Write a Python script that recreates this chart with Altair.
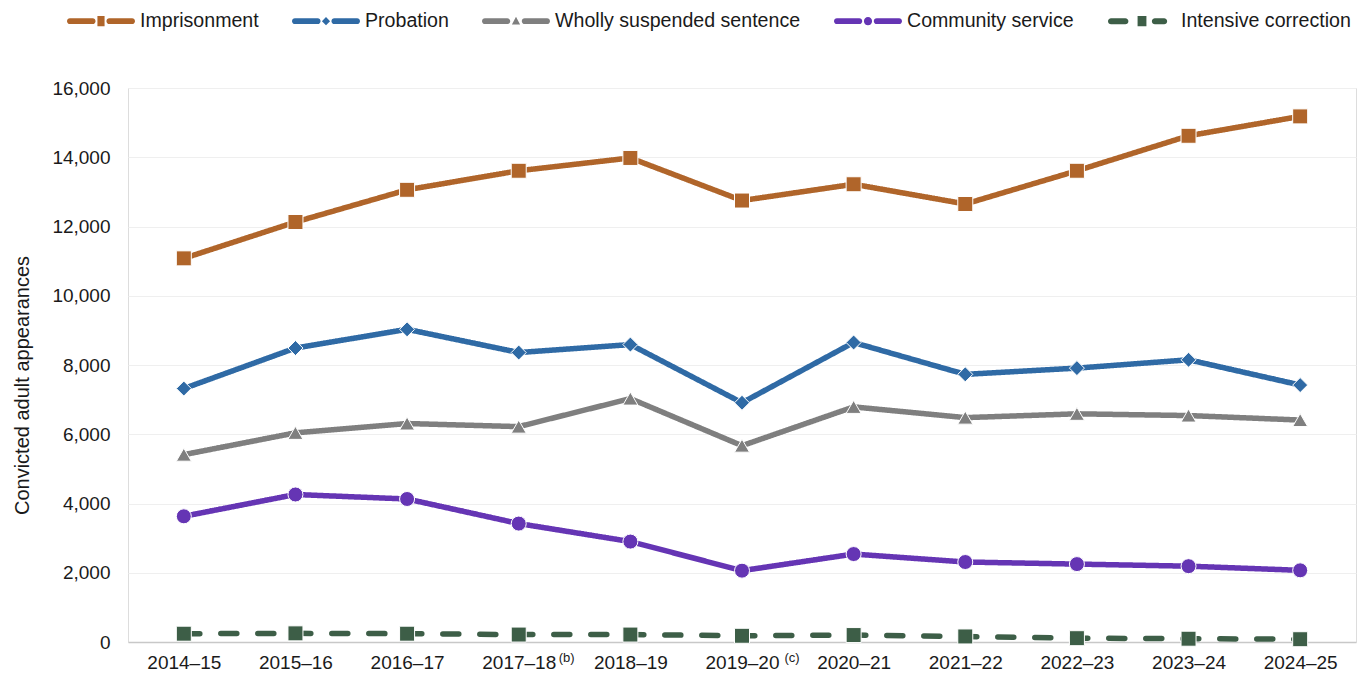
import altair as alt
import pandas as pd

# Financial years shown on the x axis
periods = ["2014–15", "2015–16", "2016–17", "2017–18", "2018–19", "2019–20",
           "2020–21", "2021–22", "2022–23", "2023–24", "2024–25"]

series_names = ["Imprisonment", "Probation", "Wholly suspended sentence",
                "Community service", "Intensive correction"]

# Convicted adult appearances by principal sentence type
imprisonment = [11080, 12130, 13060, 13610, 13980, 12750, 13220, 12650, 13610, 14620, 15180]
probation = [7320, 8490, 9030, 8360, 8590, 6910, 8650, 7730, 7910, 8150, 7420]
wholly_suspended = [5410, 6040, 6310, 6220, 7030, 5670, 6790, 6480, 6590, 6540, 6410]
community_service = [3630, 4260, 4130, 3420, 2900, 2060, 2540, 2310, 2250, 2190, 2070]
intensive_correction = [240, 250, 240, 215, 215, 180, 200, 160, 110, 95, 80]

# Footnote markers attached to some year labels
note_periods = ["2017–18", "2019–20"]
note_marks = ["(b)", "(c)"]

colors = ["#B0652A", "#2F6AA5", "#7F7F7F", "#6535B4", "#3D5E47"]
shapes = ["square", "diamond", "triangle-up", "circle", "square"]
sizes = [225, 225, 215, 250, 230]
dashes = [[1, 0], [1, 0], [1, 0], [1, 0], [16, 21]]

FONT = "Liberation Sans"
TEXT = "#1A1A1A"

values = [imprisonment, probation, wholly_suspended, community_service, intensive_correction]
rows = []
for name, vals in zip(series_names, values):
    for p, v in zip(periods, vals):
        rows.append({"period": p, "series": name, "count": v})
df = pd.DataFrame(rows)
notes = pd.DataFrame({"period": note_periods, "note": note_marks})
keys = pd.DataFrame({"series": series_names})


# Legend keys: a short line with the series marker in the middle
def bar(x0, x1, t):
    return (f"M{x0 + t:.3f},{-t:.3f}H{x1 - t:.3f}"
            f"A{t:.3f},{t:.3f} 0 0 1 {x1 - t:.3f},{t:.3f}"
            f"H{x0 + t:.3f}A{t:.3f},{t:.3f} 0 0 1 {x0 + t:.3f},{-t:.3f}Z")


T = 0.085
key_paths = [
    bar(-1, -0.16, T) + "M-0.105,-0.15H0.105V0.15H-0.105Z" + bar(0.16, 1, T),
    bar(-1, -0.16, T) + "M-0.12,0L0,-0.12L0.12,0L0,0.12Z" + bar(0.16, 1, T),
    bar(-1, -0.17, T) + "M-0.12,0.1L0.12,0.1L0,-0.13Z" + bar(0.17, 1, T),
    bar(-1, -0.17, T) + "M-0.12,0A0.12,0.12 0 1 0 0.12,0A0.12,0.12 0 1 0 -0.12,0Z" + bar(0.17, 1, T),
    bar(-1, -0.4, 0.09) + "M-0.13,-0.15H0.13V0.15H-0.13Z" + bar(0.29, 0.74, 0.09),
]

x_scale = alt.Scale(domain=periods, type="point", padding=0.5)
x_enc = alt.X("period:N", scale=x_scale,
              axis=alt.Axis(title=None, labelAngle=0, labelFontSize=19, labelFont=FONT,
                            labelColor=TEXT, labelPadding=11, ticks=False,
                            domainColor="#C8C8C8", domainWidth=1.5, grid=False))
y_enc = alt.Y("count:Q", scale=alt.Scale(domain=[0, 16000], nice=False),
              axis=alt.Axis(title="Convicted adult appearances", titleFontSize=20,
                            titleFont=FONT, titleFontWeight="normal", titleColor=TEXT,
                            titlePadding=19, titleY=297, values=list(range(0, 16001, 2000)),
                            format=",d", labelFontSize=19, labelFont=FONT, labelColor=TEXT,
                            labelPadding=18, ticks=False, domain=False,
                            gridColor="#EFEFEF", gridWidth=1))

lines = alt.Chart(df).mark_line(strokeWidth=5.5, strokeCap="round", strokeJoin="round").encode(
    x=x_enc, y=y_enc,
    stroke=alt.Stroke("series:N", scale=alt.Scale(domain=series_names, range=colors), legend=None),
    strokeDash=alt.StrokeDash("series:N", scale=alt.Scale(domain=series_names, range=dashes),
                              legend=None),
)

points = alt.Chart(df).mark_point(filled=True, opacity=1, stroke="white", strokeWidth=1).encode(
    x=x_enc, y=y_enc,
    color=alt.Color("series:N", scale=alt.Scale(domain=series_names, range=colors), legend=None),
    shape=alt.Shape("series:N", scale=alt.Scale(domain=series_names, range=shapes), legend=None),
    size=alt.Size("series:N", scale=alt.Scale(domain=series_names, range=sizes), legend=None),
)

# Legend-only layer: no rows survive the filter, the legend is built from the scale domains
legend_cfg = alt.Legend(title=None, orient="none", legendX=-61, legendY=-101,
                        direction="horizontal", columns=5, columnPadding=33,
                        labelOffset=5, symbolSize=4624, symbolStrokeWidth=0,
                        labelFontSize=19.6, labelFont=FONT, labelColor=TEXT,
                        labelLimit=0, padding=0)
legend_layer = alt.Chart(keys).transform_filter("false").mark_point(
    filled=True, opacity=1, strokeWidth=0).encode(
    color=alt.Color("series:N", scale=alt.Scale(domain=series_names, range=colors),
                    legend=legend_cfg),
    shape=alt.Shape("series:N", scale=alt.Scale(domain=series_names, range=key_paths),
                    legend=legend_cfg),
)

# Superscript footnote markers beside the year labels
sup_b = alt.Chart(notes).transform_filter(alt.datum.note == "(b)").mark_text(
    fontSize=13, font=FONT, color=TEXT, dx=48, baseline="middle").encode(
    x=x_enc, y=alt.value(570), text="note:N")
sup_c = alt.Chart(notes).transform_filter(alt.datum.note == "(c)").mark_text(
    fontSize=13, font=FONT, color=TEXT, dx=50, baseline="middle").encode(
    x=x_enc, y=alt.value(570), text="note:N")

chart = alt.layer(lines, points, sup_b, sup_c, legend_layer).resolve_scale(
    color="independent", shape="independent"
).properties(
    width=1228, height=554,
    autosize=alt.AutoSizeParams(type="none"),
    padding={"left": 128, "top": 88, "right": 7, "bottom": 37},
).configure_view(stroke="transparent", strokeWidth=0).configure_axis(
    domainColor="transparent", tickColor="transparent"
).configure_axisY(domain=False).configure_axisX(grid=False).configure(background="white")

chart.save("out.html", embed_options={"renderer": "svg", "actions": False})
